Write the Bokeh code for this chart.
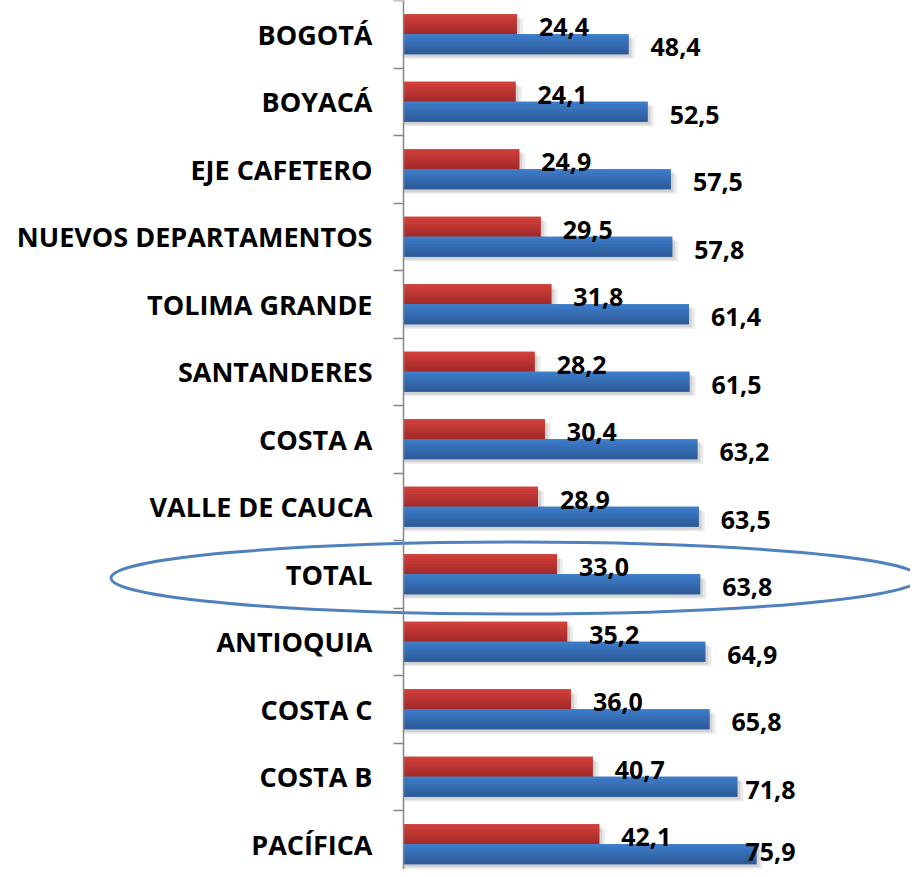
from bokeh.plotting import figure
from bokeh.models import Range1d, LinearAxis, FixedTicker, ColumnDataSource
from bokeh.core.properties import value
from bokeh.embed import file_html
from bokeh.resources import INLINE

# ---- data ----
categories = ["BOGOTÁ", "BOYACÁ", "EJE CAFETERO", "NUEVOS DEPARTAMENTOS",
              "TOLIMA GRANDE", "SANTANDERES", "COSTA A", "VALLE DE CAUCA",
              "TOTAL", "ANTIOQUIA", "COSTA C", "COSTA B", "PACÍFICA"]
red_values = [24.4, 24.1, 24.9, 29.5, 31.8, 28.2, 30.4, 28.9, 33.0, 35.2, 36.0, 40.7, 42.1]
blue_values = [48.4, 52.5, 57.5, 57.8, 61.4, 61.5, 63.2, 63.5, 63.8, 64.9, 65.8, 71.8, 75.9]
highlight = "TOTAL"

# ---- layout constants (pixels) ----
W, H = 910, 869
PX_X = 4.65          # px per value unit
PX_Y = 67.5          # px per category band
AXIS_PX = 403        # figure x of value 0
TOP_CUT = 0          # portion of the chart above the figure
BAR_H = 0.296        # bar thickness (band units)
LABEL_GAP = 22       # px between bar end and its label
LABEL_RIGHT_LIMIT = 68.8  # labels are pushed in before this value (plot right edge)
LABEL_HALF_H = 18    # px, half height of a value label box

n = len(categories)
centers = [i + 0.5 for i in range(n)]

p = figure(width=W, height=H, output_backend="svg", toolbar_location=None,
           x_range=Range1d(-AXIS_PX / PX_X, (W - AXIS_PX) / PX_X),
           y_range=Range1d((H + TOP_CUT) / PX_Y, TOP_CUT / PX_Y),
           x_axis_type=None, y_axis_type=None, min_border=0)
p.grid.visible = False
p.outline_line_color = None
p.background_fill_color = "white"
p.border_fill_color = "white"


def lerp(c1, c2, t):
    return "#%02x%02x%02x" % tuple(int(round(a + (b - a) * t)) for a, b in zip(c1, c2))


def draw_series(vals, offset_sign, top_rgb, bottom_rgb):
    dx = 3 / PX_X
    dy = 3 / PX_Y
    ys = [c + offset_sign * BAR_H / 2 for c in centers]
    # soft shadow
    for k, a in ((2, 0.08), (1, 0.10)):
        p.hbar(y=[y + dy * k / 2 + dy / 2 for y in ys], left=0,
               right=[v + dx * k for v in vals], height=BAR_H,
               fill_color="#000000", fill_alpha=a, line_color=None)
    # base fill, then gradient slices
    p.hbar(y=ys, left=0, right=vals, height=BAR_H,
           fill_color=lerp(top_rgb, bottom_rgb, 0.5), line_color=None)
    S = 8
    for j in range(S):
        t = (j + 0.5) / S
        yy = [y - BAR_H / 2 + t * BAR_H for y in ys]
        col = lerp(top_rgb, bottom_rgb, t)
        p.hbar(y=yy, left=0, right=vals, height=BAR_H / S,
               fill_color=col, line_color=None)


draw_series(red_values, -1, (214, 66, 60), (158, 40, 40))
draw_series(blue_values, 1, (62, 127, 206), (44, 88, 148))

# value labels (kept inside the plot area, like the original)
fmt = lambda v: ("%.1f" % v).replace(".", ",")
dy_lab = 3 / PX_Y
y_max = (H + TOP_CUT - LABEL_HALF_H) / PX_Y
red_src = ColumnDataSource(dict(
    x=[min(v, LABEL_RIGHT_LIMIT) for v in red_values],
    y=[min(c - BAR_H / 2 + dy_lab, y_max) for c in centers],
    t=[fmt(v) for v in red_values]))
blue_src = ColumnDataSource(dict(
    x=[min(v, LABEL_RIGHT_LIMIT) for v in blue_values],
    y=[min(c + BAR_H / 2 + dy_lab, y_max) for c in centers],
    t=[fmt(v) for v in blue_values]))
for src in (red_src, blue_src):
    p.text(x="x", y="y", text="t", source=src, x_offset=LABEL_GAP,
           text_align="left", text_baseline="middle",
           text_font=value("Open Sans"), text_font_style="bold",
           text_font_size="25px", text_color="black")

# highlight ellipse around TOTAL
ti = categories.index(highlight)
p.ellipse(x=24.1, y=centers[ti] + 0.056, width=174.0, height=1.067,
          fill_color=None, line_color="#4F81BD", line_width=3)

# category axis drawn at value 0
yaxis = LinearAxis(fixed_location=0,
                   ticker=FixedTicker(ticks=centers, minor_ticks=[float(i) for i in range(n + 1)]),
                   major_label_overrides={c: name for c, name in zip(centers, categories)},
                   major_tick_out=0, major_tick_in=0,
                   minor_tick_out=10, minor_tick_in=0,
                   minor_tick_line_color="#868686", minor_tick_line_width=1.5,
                   axis_line_color="#868686", axis_line_width=1.5,
                   major_label_standoff=21,
                   major_label_text_font="Open Sans",
                   major_label_text_font_style="bold",
                   major_label_text_font_size="27px",
                   major_label_text_color="black")
p.add_layout(yaxis, "left")

open("out.html", "w").write(file_html(p, INLINE))
